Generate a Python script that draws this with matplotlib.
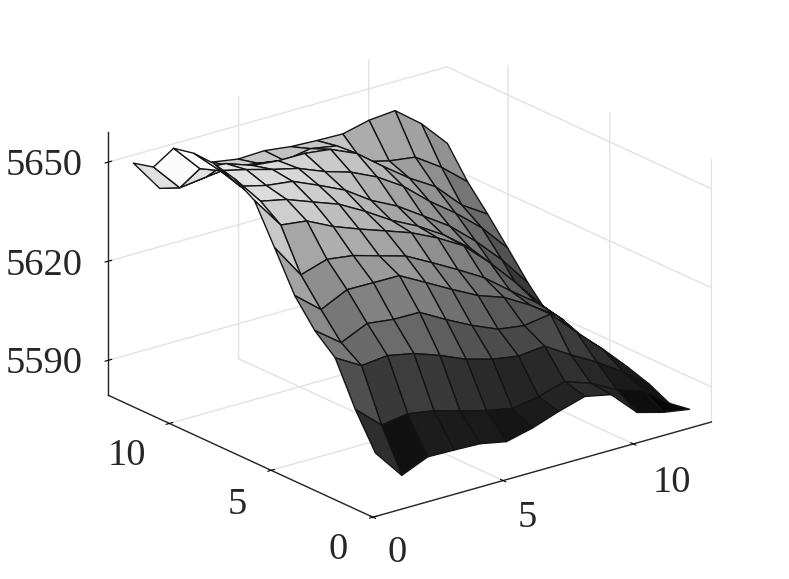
import numpy as np
import matplotlib
matplotlib.use('Agg')
import matplotlib.pyplot as plt

x_vals = [0.10, 1.11, 2.11, 3.12, 4.12, 5.13, 6.13, 7.14, 8.14, 9.15, 10.15, 11.16, 12.16]
y_vals = [0.0, 0.99, 1.98, 2.98, 3.97, 4.96, 5.95, 6.94, 7.94, 8.93, 9.92, 10.91, 11.90]
x_ticks = [0, 5, 10]
y_ticks = [0, 5, 10]
z_ticks = [5590, 5620, 5650]

# one row per y step
z_row0 = [5598.6, 5589.6, 5593.0, 5592.8, 5592.5, 5590.9, 5592.8, 5595.6, 5597.9, 5596.2, 5588.6, 5586.4, 5585.1]
z_row1 = [5609.0, 5602.0, 5603.2, 5601.9, 5599.6, 5597.5, 5595.9, 5597.2, 5599.6, 5596.8, 5592.6, 5590.2, 5584.1]
z_row2 = [5621.8, 5617.2, 5618.0, 5616.4, 5613.6, 5610.2, 5608.0, 5606.7, 5607.5, 5602.6, 5598.2, 5593.0, 5587.1]
z_row3 = [5627.2, 5621.3, 5624.9, 5623.9, 5623.8, 5619.4, 5615.4, 5612.0, 5610.9, 5612.1, 5604.4, 5597.0, 5589.1]
z_row4 = [5635.0, 5628.5, 5632.3, 5632.2, 5632.1, 5627.8, 5623.5, 5619.4, 5616.6, 5612.0, 5606.7, 5597.9, 5589.6]
z_row5 = [5646.7, 5636.2, 5638.7, 5637.6, 5635.3, 5633.0, 5628.8, 5624.4, 5619.8, 5613.6, 5607.8, 5600.4, 5590.6]
z_row6 = [5658.2, 5648.5, 5647.5, 5643.6, 5640.6, 5637.8, 5635.0, 5631.2, 5626.6, 5619.2, 5610.9, 5601.8, 5593.5]
z_row7 = [5662.0, 5652.9, 5651.2, 5648.2, 5645.3, 5640.9, 5636.0, 5632.0, 5627.1, 5620.9, 5612.0, 5602.3, 5594.2]
z_row8 = [5663.7, 5654.6, 5652.6, 5651.6, 5648.2, 5644.5, 5639.2, 5635.2, 5630.0, 5624.7, 5617.9, 5610.0, 5600.8]
z_row9 = [5664.0, 5656.5, 5654.6, 5652.4, 5650.5, 5647.3, 5644.9, 5641.2, 5636.2, 5629.4, 5623.6, 5616.9, 5608.5]
z_row10 = [5662.7, 5654.3, 5653.6, 5650.8, 5650.0, 5650.0, 5649.0, 5645.5, 5639.4, 5633.6, 5628.8, 5621.0, 5616.0]
z_row11 = [5654.2, 5645.7, 5646.7, 5647.6, 5646.4, 5645.0, 5646.4, 5645.0, 5638.0, 5636.0, 5634.9, 5629.6, 5623.0]
z_row12 = [5652.6, 5642.7, 5641.5, 5646.2, 5644.9, 5645.2, 5644.2, 5643.8, 5643.6, 5645.5, 5646.2, 5640.0, 5631.8]

Z = np.array([z_row0, z_row1, z_row2, z_row3, z_row4, z_row5, z_row6,
              z_row7, z_row8, z_row9, z_row10, z_row11, z_row12])
X, Y = np.meshgrid(x_vals, y_vals)

plt.rcParams['font.family'] = ['Liberation Serif', 'DejaVu Serif']
plt.rcParams['grid.color'] = '#e2e2e2'
plt.rcParams['grid.linewidth'] = 1.0

fig = plt.figure(figsize=(7.89, 5.79), dpi=100)
ax = fig.add_axes([0.0096, 0.0078, 1, 1], projection='3d')
ax.set_proj_type('ortho')
ax.view_init(elev=21.1, azim=-128)
ax.set_box_aspect((1, 1, 0.656), zoom=1.123)

# flat shading: each face takes the value of its low index corner
norm = plt.Normalize(Z.min(), Z.max())
surf = ax.plot_surface(X, Y, Z, rstride=1, cstride=1, facecolors=plt.cm.gray(norm(Z)),
                       edgecolor='#141414', linewidth=1.0, shade=False, antialiased=True)
surf.set_clip_on(False)

ax.set_xlim(0, 13, view_margin=0)
ax.set_ylim(0, 13, view_margin=0)
ax.set_zlim(5579.4, 5659, view_margin=0)
ax.set_xticks(x_ticks, labels=[])
ax.set_yticks(y_ticks, labels=[])
ax.set_zticks(z_ticks, labels=[])

for axis in (ax.xaxis, ax.yaxis, ax.zaxis):
    axis.set_pane_color((1, 1, 1, 0))
    axis.pane.set_edgecolor('none')
    axis.line.set_color('#262626')
    axis.line.set_linewidth(1.0)
    axis._axinfo['tick'].update(inward_factor=0.12, outward_factor=0.12, linewidth={True: 0.8, False: 0.5})
    axis._axinfo['tick']['color'] = '#262626'


def tick_text(px, py, value, ha='center'):
    # mplot3d cannot offset tick labels in x and y apart, so place them in pixels
    fig.text(px / 789, 1 - py / 579, str(value), ha=ha, va='center', fontsize=27.7, color='#262626')


for px, py, v in zip([397, 527, 672], [553, 518, 483], x_ticks):
    tick_text(px, py, v)
for px, py, v in zip([338, 237, 127], [550, 505, 456], y_ticks):
    tick_text(px, py, v)
for py, v in zip([364, 266, 166], z_ticks):
    tick_text(83, py, v, ha='right')

fig.savefig('out.png', dpi=100, facecolor='white')
